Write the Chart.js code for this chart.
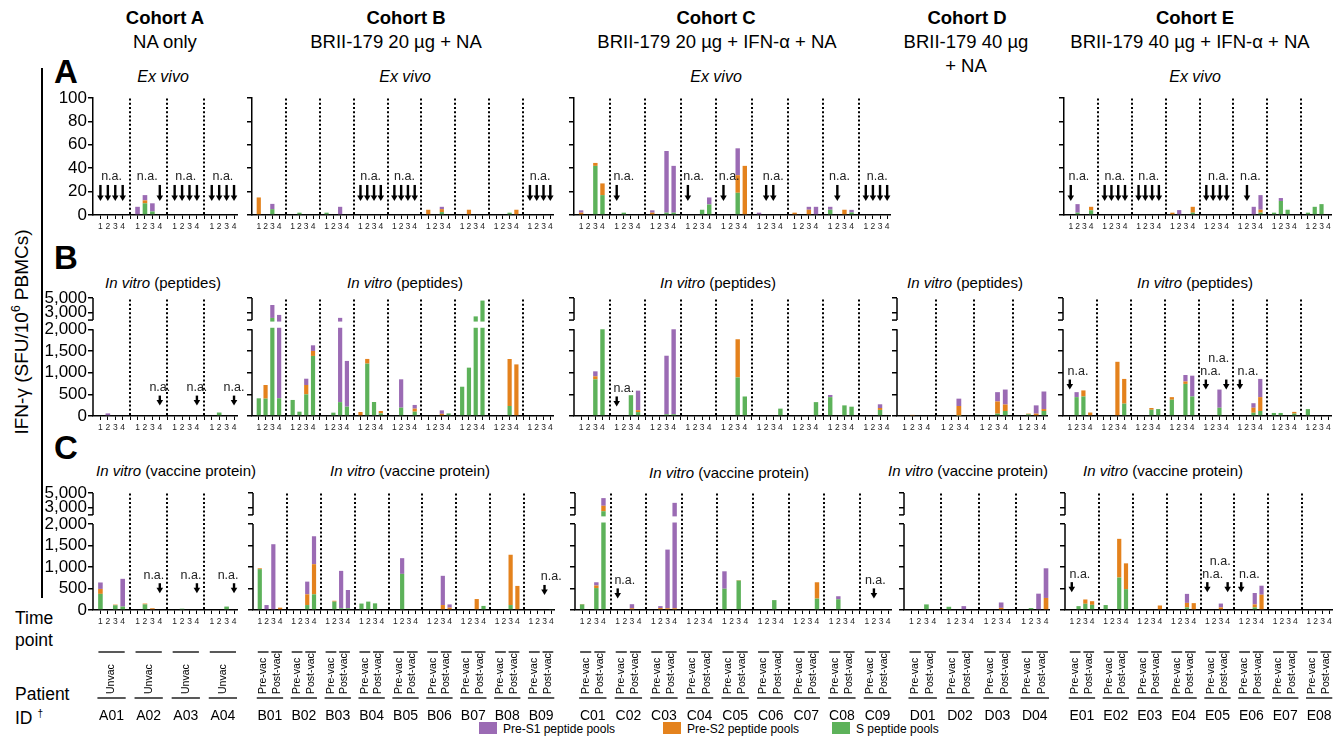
<!DOCTYPE html>
<html>
<head>
<meta charset="utf-8">
<script src="https://cdn.jsdelivr.net/npm/chart.js@4.4.0/dist/chart.umd.min.js"></script>
<style>
  body { margin: 0; width: 1335px; height: 736px; position: relative; background: #fff; overflow: hidden;
         font-family: "Liberation Sans", Arial, sans-serif; color: #000; }
  .t { position: absolute; white-space: nowrap; transform: translate(-50%, -50%); }
  .l { position: absolute; white-space: nowrap; transform: translateY(-50%); }
  .b { font-weight: bold; }
  .i { font-style: italic; }
  .h { font-size: 18.5px; }
  canvas { position: absolute; }
  .sw { position: absolute; width: 18px; height: 12px; }
</style>
</head>
<body>

<div class="t b h" style="left:165px;top:18px">Cohort A</div>
<div class="t h" style="left:165px;top:42px">NA only</div>
<div class="t b h" style="left:406px;top:18px">Cohort B</div>
<div class="t h" style="left:396px;top:42px">BRII-179 20 µg + NA</div>
<div class="t b h" style="left:716px;top:18px">Cohort C</div>
<div class="t h" style="left:717px;top:42px">BRII-179 20 µg + IFN-α + NA</div>
<div class="t b h" style="left:967px;top:18px">Cohort D</div>
<div class="t h" style="left:966px;top:42px">BRII-179 40 µg</div>
<div class="t h" style="left:966px;top:66px">+ NA</div>
<div class="t b h" style="left:1195px;top:18px">Cohort E</div>
<div class="t h" style="left:1190px;top:42px">BRII-179 40 µg + IFN-α + NA</div>

<div class="t b" style="left:66px;top:72px;font-size:33px">A</div>
<div class="t b" style="left:66px;top:258px;font-size:33px">B</div>
<div class="t b" style="left:66px;top:448px;font-size:33px">C</div>

<div style="position:absolute;left:41px;top:68px;width:2px;height:530px;background:#000"></div>
<div class="t" style="left:21px;top:332px;font-size:19px;transform:translate(-50%,-50%) rotate(-90deg)">IFN-γ (SFU/10<sup style="font-size:12px">6</sup> PBMCs)</div>

<div class="t i" style="left:163px;top:77px;font-size:16px">Ex vivo</div>
<div class="t i" style="left:405px;top:77px;font-size:16px">Ex vivo</div>
<div class="t i" style="left:716px;top:77px;font-size:16px">Ex vivo</div>
<div class="t i" style="left:1195px;top:77px;font-size:16px">Ex vivo</div>

<div class="t" style="left:163px;top:282px;font-size:15px"><i>In vitro</i> (peptides)</div>
<div class="t" style="left:405px;top:282px;font-size:15px"><i>In vitro</i> (peptides)</div>
<div class="t" style="left:718px;top:282px;font-size:15px"><i>In vitro</i> (peptides)</div>
<div class="t" style="left:965px;top:282px;font-size:15px"><i>In vitro</i> (peptides)</div>
<div class="t" style="left:1195px;top:282px;font-size:15px"><i>In vitro</i> (peptides)</div>

<div class="t" style="left:176px;top:470px;font-size:15px"><i>In vitro</i> (vaccine protein)</div>
<div class="t" style="left:410px;top:470px;font-size:15px"><i>In vitro</i> (vaccine protein)</div>
<div class="t" style="left:729px;top:472px;font-size:15px"><i>In vitro</i> (vaccine protein)</div>
<div class="t" style="left:968px;top:470px;font-size:15px"><i>In vitro</i> (vaccine protein)</div>
<div class="t" style="left:1163px;top:470px;font-size:15px"><i>In vitro</i> (vaccine protein)</div>

<div class="l" style="left:15px;top:618px;font-size:17.5px">Time</div>
<div class="l" style="left:15px;top:640px;font-size:17.5px">point</div>
<div class="l" style="left:15px;top:694px;font-size:17.5px">Patient</div>
<div class="l" style="left:15px;top:718px;font-size:17.5px">ID <sup style="font-size:10px">†</sup></div>

<div class="sw" style="left:479px;top:722px;background:#9b6bb4"></div>
<div class="l" style="left:503px;top:729px;font-size:12px">Pre-S1 peptide pools</div>
<div class="sw" style="left:663px;top:722px;background:#e4821d"></div>
<div class="l" style="left:687px;top:729px;font-size:12px">Pre-S2 peptide pools</div>
<div class="sw" style="left:832px;top:722px;background:#5db25a"></div>
<div class="l" style="left:856px;top:729px;font-size:12px">S peptide pools</div>

<script>
// ---- labels ----
const timePoints = ['1', '2', '3', '4'];
const vacLabels = ['Pre-vac', 'Post-vac'];
const unvacLabel = 'Unvac';
const cohortA_ids = ['A01', 'A02', 'A03', 'A04'];
const cohortB_ids = ['B01', 'B02', 'B03', 'B04', 'B05', 'B06', 'B07', 'B08', 'B09'];
const cohortC_ids = ['C01', 'C02', 'C03', 'C04', 'C05', 'C06', 'C07', 'C08', 'C09'];
const cohortD_ids = ['D01', 'D02', 'D03', 'D04'];
const cohortE_ids = ['E01', 'E02', 'E03', 'E04', 'E05', 'E06', 'E07', 'E08'];
const exVivoTicks = [0, 20, 40, 60, 80, 100];
const inVitroTicks = [0, 500, 1000, 1500, 2000, 3000, 5000];
const BREAK_AT = 2000;

// ---- values, 4 time points per patient (SFU/10^6 PBMCs) ----
// ex vivo
const exVivo_A_preS1 = [0,0,0,0, 7,4.5,7,0, 0,0,0,0, 0,0,0,0];
const exVivo_A_preS2 = [0,0,0,0, 0,2.5,0,0, 0,0,0,0, 0,0,0,0];
const exVivo_A_S     = [0,0,0,0, 0,10,3,0, 0,0,0,0, 0,0,0,0];
const exVivo_B_preS1 = [0,0,4.5,0, 0,0,0,0, 0,0,7,0, 0,0,0,0, 0,0,0,0, 0,0,2,0, 0,0,0,0, 0,0,0,0, 0,0,0,0];
const exVivo_B_preS2 = [15,0,0,0, 0,0,0,0, 0,0,0,0, 0,0,0,0, 0,0,0,0, 4.5,0,2.5,0, 0,4.5,0,0, 0,0,0,4.5, 0,0,0,0];
const exVivo_B_S     = [0,0,5,0, 0,2,0,0, 2,0,0,0, 0,0,0,0, 0,0,0,0, 0,0,2.5,0, 0,0,0,0, 0,0,2,0, 0,0,0,0];
const exVivo_C_preS1 = [2,0,0,0, 0,0,0,0, 2,0,52.7,40, 0,0,0,6, 0,0,23,0, 2,0,0,0, 0,0,2.5,7, 2.5,0,0,2.2, 0,0,0,0];
const exVivo_C_preS2 = [2,0,2.5,10, 0,0,0,0, 2,0,0,0, 0,0,0,0, 0,0,15,42, 0,0,0,0, 2,0,4.5,0, 0,0,4.5,0, 0,0,0,0];
const exVivo_C_S     = [0,0,42,17, 0,2,0,0, 0,0,2,2, 0,0,4.5,9, 0,0,19,0, 0,0,0,0, 0,0,0,0, 4.5,0,0,2.2, 0,0,0,0];
const exVivo_E_preS1 = [0,7.3,0,0, 0,0,0,0, 0,0,0,0, 0,4.2,0,0, 0,0,0,0, 0,0,7,12.5, 0,2.5,0,0, 0,0,0,0];
const exVivo_E_preS2 = [0,0,0,3, 0,0,0,0, 0,0,0,0, 2,0,0,5, 0,0,0,0, 0,0,0,2.5, 0,0,0,0, 0,0,0,0];
const exVivo_E_S     = [0,2,0,4, 0,0,0,0, 0,0,0,0, 0,0,0,2, 0,0,0,0, 0,0,0,2, 2,12,4.5,0, 2,7,9.3,0];

// in vitro, peptides
const peptides_A_preS1 = [0,60,0,0, 0,0,0,0, 0,0,0,0, 0,0,0,0];
const peptides_A_preS2 = [0,0,0,0, 0,0,0,0, 0,0,0,0, 0,0,0,0];
const peptides_A_S     = [0,0,0,0, 0,0,0,0, 0,0,0,0, 0,80,0,0];
const peptides_B_preS1 = [0,0,1760,2290, 0,0,145,130, 0,0,1980,1055, 0,0,0,0, 0,654,0,85, 0,0,80,0, 0,0,0,0, 0,0,0,0, 0,0,0,0];
const peptides_B_preS2 = [0,315,0,0, 0,0,215,115, 0,0,0,0, 92,108,0,55, 0,0,0,70, 0,0,50,0, 0,0,0,0, 0,0,1085,1190, 0,0,0,0];
const peptides_B_S     = [408,400,2290,410, 370,100,500,1385, 0,77,320,215, 0,1208,323,60, 0,192,0,100, 0,0,0,60, 675,1115,2500,4650, 0,0,230,0, 0,0,0,0];
const peptides_C_preS1 = [0,0,115,0, 0,0,0,450, 0,0,1350,1960, 0,0,0,0, 0,0,0,0, 0,0,0,0, 0,0,0,0, 50,0,0,0, 0,0,85,0];
const peptides_C_preS2 = [0,0,70,0, 0,0,0,45, 0,0,0,0, 0,0,0,0, 0,0,880,0, 0,0,0,0, 0,0,0,0, 0,0,0,0, 0,0,45,0];
const peptides_C_S     = [0,0,845,2000, 0,0,480,90, 0,0,40,40, 0,0,0,0, 0,0,890,450, 0,0,0,170, 0,0,0,320, 435,0,245,215, 0,0,140,0];
const peptides_D_preS1 = [0,0,0,0, 0,0,170,0, 0,0,215,345, 0,0,190,405];
const peptides_D_preS2 = [0,25,0,0, 0,0,220,0, 0,0,280,150, 0,15,55,45];
const peptides_D_S     = [0,0,0,0, 0,0,10,0, 0,0,55,115, 0,40,0,115];
const peptides_E_preS1 = [0,115,0,0, 0,0,0,0, 0,0,0,0, 0,0,150,480, 0,0,420,0, 0,0,105,420, 0,0,0,0, 0,0,0,0];
const peptides_E_preS2 = [0,0,140,80, 0,0,1250,570, 0,0,40,0, 60,0,55,0, 0,0,0,0, 0,0,115,320, 0,0,0,40, 0,0,0,0];
const peptides_E_S     = [0,435,450,0, 0,0,0,285, 0,0,145,160, 375,0,740,450, 0,0,190,0, 0,0,75,115, 70,70,0,55, 160,0,0,0];

// in vitro, vaccine protein
const protein_A_preS1 = [150,0,0,645, 0,0,0,0, 0,0,0,0, 0,0,0,0];
const protein_A_preS2 = [115,0,15,0, 0,20,40,0, 0,0,0,0, 0,0,0,0];
const protein_A_S     = [375,0,110,80, 0,130,0,0, 0,30,0,0, 0,0,80,0];
const protein_B_preS1 = [0,115,1530,0, 0,0,295,650, 0,0,870,425, 0,0,0,0, 0,365,0,0, 0,0,680,75, 0,0,0,0, 0,0,0,0, 0,0,0,0];
const protein_B_preS2 = [20,0,0,55, 0,0,250,700, 0,20,0,0, 0,0,0,0, 0,0,0,0, 0,0,115,55, 0,0,255,0, 0,0,1170,560, 0,0,0,0];
const protein_B_S     = [950,0,0,0, 0,0,115,365, 0,195,40,40, 150,195,155,0, 0,840,0,0, 0,0,0,0, 0,0,0,95, 0,0,115,0, 0,0,0,15];
const protein_C_preS1 = [0,0,75,1050, 0,0,95,0, 0,45,1365,3610, 0,0,0,0, 405,0,0,0, 0,0,0,0, 0,0,0,0, 0,70,0,0, 0,0,0,0];
const protein_C_preS2 = [10,0,60,750, 0,0,40,0, 0,45,40,40, 0,0,0,0, 0,0,10,0, 0,0,0,0, 0,0,0,380, 0,0,0,0, 0,0,0,0];
const protein_C_S     = [130,0,510,2500, 0,0,0,0, 0,0,0,0, 0,0,0,0, 495,0,685,0, 0,0,230,0, 0,0,0,265, 0,250,0,0, 0,0,0,0];
const protein_D_preS1 = [0,0,0,0, 0,0,90,0, 0,0,125,0, 0,0,380,690];
const protein_D_preS2 = [0,0,0,0, 0,0,0,0, 0,0,50,0, 0,0,0,280];
const protein_D_S     = [0,0,130,0, 75,0,0,0, 0,0,0,0, 0,45,0,0];
const protein_E_preS1 = [0,0,0,0, 0,0,0,0, 0,0,0,0, 0,0,210,0, 0,0,90,0, 0,0,265,210, 0,0,0,0, 0,0,0,0];
const protein_E_preS2 = [0,0,100,85, 0,0,900,600, 0,0,0,105, 0,0,105,160, 0,0,60,0, 0,0,70,355, 0,0,0,0, 0,0,0,0];
const protein_E_S     = [0,90,145,120, 115,0,755,485, 0,0,0,0, 0,0,60,0, 0,0,0,0, 0,0,60,0, 0,0,0,0, 0,0,0,0];

// not available: [patient, time points with arrow, label centre (time point), label level]
const exVivo_A_na = [[0,[0,1,2,3],1.5], [1,[3],1.3], [2,[0,1,2,3],1.5], [3,[0,1,2,3],1.5]];
const exVivo_B_na = [[3,[0,1,2,3],1.5], [4,[0,1,2,3],1.5], [8,[0,1,2,3],1.5]];
const exVivo_C_na = [[1,[0],1], [3,[0],0.8], [4,[0],0.8], [5,[1,2],2], [7,[1],1.3], [8,[0,1,2,3],1.6]];
const exVivo_E_na = [[0,[0],1.2], [1,[0,1,2,3],1.5], [2,[0,1,2,3],1.5], [4,[0,1,2,3],1.8], [5,[1],1.5]];
const peptides_A_na = [[1,[3],3], [2,[3],3], [3,[3],3]];
const peptides_C_na = [[1,[0],1]];
const peptides_E_na = [[0,[0],1.2], [4,[0],0.7], [4,[3],1.9,1], [5,[0],1.2]];
const protein_A_na = [[1,[3],2.2], [2,[3],2.2], [3,[3],2.2]];
const protein_B_na = [[8,[2],3]];
const protein_C_na = [[1,[0],1], [8,[1],1.2]];
const protein_E_na = [[0,[0],1.2], [4,[0],0.8], [4,[3],1.9,1], [5,[0],1.2]];

const SERIES = [
  { label: 'S peptide pools', color: '#5db25a' },
  { label: 'Pre-S2 peptide pools', color: '#e4821d' },
  { label: 'Pre-S1 peptide pools', color: '#9b6bb4' }
];

// y axis with a gap between 2,000 and the upper segment
class BrokenLinear extends Chart.LinearScale {
  getPixelForValue(v) {
    const b = this.bottom, h = this.bottom - this.top;
    const lowH = h * 0.735, gapH = h * 0.078;
    if (v <= BREAK_AT) return b - v / BREAK_AT * lowH;
    return b - lowH - gapH - (v - BREAK_AT) / (this.max - BREAK_AT) * (h - lowH - gapH);
  }
  getValueForPixel(p) {
    const b = this.bottom, h = this.bottom - this.top;
    const lowH = h * 0.735, gapH = h * 0.078;
    if (p >= b - lowH) return (b - p) / lowH * BREAK_AT;
    return BREAK_AT + (b - lowH - gapH - p) / (h - lowH - gapH) * (this.max - BREAK_AT);
  }
}
BrokenLinear.id = 'brokenLinear';
BrokenLinear.defaults = Chart.LinearScale.defaults;
Chart.register(BrokenLinear);

Chart.defaults.font.family = '"Liberation Sans", Arial, sans-serif';
Chart.defaults.color = '#000';

const rows = [
  { top: 98,  zero: 215, max: 100,  ticks: exVivoTicks,  broken: false, arrowLen: 16 },
  { top: 298, zero: 416, max: 5000, ticks: inVitroTicks, broken: true,  arrowLen: 10 },
  { top: 493, zero: 610, max: 5000, ticks: inVitroTicks, broken: true,  arrowLen: 10, footer: true }
];

const panels = [
  { row: 0, left: 93,   right: 237,  ids: cohortA_ids, first: true, s1: exVivo_A_preS1, s2: exVivo_A_preS2, s: exVivo_A_S, na: exVivo_A_na, tip: 12 },
  { row: 0, left: 252,  right: 553,  ids: cohortB_ids, s1: exVivo_B_preS1, s2: exVivo_B_preS2, s: exVivo_B_S, na: exVivo_B_na, tip: 12 },
  { row: 0, left: 574,  right: 890,  ids: cohortC_ids, s1: exVivo_C_preS1, s2: exVivo_C_preS2, s: exVivo_C_S, na: exVivo_C_na, tip: 12 },
  { row: 0, left: 1064, right: 1331, ids: cohortE_ids, s1: exVivo_E_preS1, s2: exVivo_E_preS2, s: exVivo_E_S, na: exVivo_E_na, tip: 12 },

  { row: 1, left: 93,   right: 237,  ids: cohortA_ids, first: true, s1: peptides_A_preS1, s2: peptides_A_preS2, s: peptides_A_S, na: peptides_A_na, tip: 240 },
  { row: 1, left: 252,  right: 553,  ids: cohortB_ids, s1: peptides_B_preS1, s2: peptides_B_preS2, s: peptides_B_S, na: [], tip: 0 },
  { row: 1, left: 574,  right: 890,  ids: cohortC_ids, s1: peptides_C_preS1, s2: peptides_C_preS2, s: peptides_C_S, na: peptides_C_na, tip: 220 },
  { row: 1, left: 897,  right: 1047, ids: cohortD_ids, s1: peptides_D_preS1, s2: peptides_D_preS2, s: peptides_D_S, na: [], tip: 0 },
  { row: 1, left: 1063, right: 1331, ids: cohortE_ids, s1: peptides_E_preS1, s2: peptides_E_preS2, s: peptides_E_S, na: peptides_E_na, tip: 610 },

  { row: 2, left: 93,   right: 237,  ids: cohortA_ids, first: true, unvac: true, s1: protein_A_preS1, s2: protein_A_preS2, s: protein_A_S, na: protein_A_na, tip: 390 },
  { row: 2, left: 253,  right: 554,  ids: cohortB_ids, s1: protein_B_preS1, s2: protein_B_preS2, s: protein_B_S, na: protein_B_na, tip: 350 },
  { row: 2, left: 575,  right: 891,  ids: cohortC_ids, s1: protein_C_preS1, s2: protein_C_preS2, s: protein_C_S, na: protein_C_na, tip: 270 },
  { row: 2, left: 904,  right: 1049, ids: cohortD_ids, s1: protein_D_preS1, s2: protein_D_preS2, s: protein_D_S, na: [], tip: 0 },
  { row: 2, left: 1065, right: 1332, ids: cohortE_ids, s1: protein_E_preS1, s2: protein_E_preS2, s: protein_E_S, na: protein_E_na, tip: 415 }
];

function seg(ctx, x1, y1, x2, y2) {
  ctx.beginPath(); ctx.moveTo(x1, y1); ctx.lineTo(x2, y2); ctx.stroke();
}

function arrow(ctx, cx, tipY, len) {
  const hw = 3.3, hh = 5.5;
  ctx.fillRect(cx - 1.2, tipY - len, 2.4, len - hh + 1);
  ctx.beginPath();
  ctx.moveTo(cx - hw, tipY - hh); ctx.lineTo(cx + hw, tipY - hh); ctx.lineTo(cx, tipY);
  ctx.closePath(); ctx.fill();
}

const decor = {
  id: 'decor',
  afterDatasetsDraw(chart) {
    const { ctx, chartArea: a, scales: { x, y } } = chart;
    const P = chart.canvas.panel, R = rows[P.row];
    const n = P.ids.length;
    ctx.save();
    ctx.strokeStyle = '#000'; ctx.fillStyle = '#000';
    if (R.broken) {
      const yLow = y.getPixelForValue(BREAK_AT), yHigh = y.getPixelForValue(BREAK_AT + 1e-6);
      ctx.fillStyle = '#fff';
      ctx.fillRect(a.left + 1, yHigh + 1.5, a.right - a.left, yLow - yHigh - 3);
      ctx.fillStyle = '#000';
      ctx.lineWidth = 1.5;
      seg(ctx, a.left, y.getPixelForValue(0), a.left, yLow);
      seg(ctx, a.left, yHigh, a.left, y.getPixelForValue(R.max));
      seg(ctx, a.left - 5, yHigh, a.left, yHigh);
    }
    // dotted separators between patients
    ctx.lineWidth = 2;
    ctx.setLineDash([2, 2.2]);
    for (let p = 1; p < n; p++) {
      const sx = Math.round(x.getPixelForValue(p * 5 - 1));
      seg(ctx, sx, a.bottom - 1, sx, a.top);
    }
    ctx.setLineDash([]);
    // n.a. marks
    ctx.font = '12.5px "Liberation Sans", Arial, sans-serif';
    ctx.textAlign = 'center'; ctx.textBaseline = 'middle';
    P.na.forEach(([p, tps, c, lvl]) => {
      const tipY = y.getPixelForValue(P.tip);
      tps.forEach(t => arrow(ctx, x.getPixelForValue(p * 5 + t), tipY, R.arrowLen));
      ctx.fillStyle = '#222';
      ctx.fillText('n.a.', x.getPixelForValue(p * 5 + c), tipY - R.arrowLen - 8 - (lvl || 0) * 13);
      ctx.fillStyle = '#000';
    });
    ctx.restore();
  },
  afterDraw(chart) {
    const P = chart.canvas.panel, R = rows[P.row];
    if (!R.footer) return;
    const { ctx, scales: { x } } = chart;
    const Y = v => v - P.cTop;
    ctx.save();
    ctx.strokeStyle = '#222'; ctx.fillStyle = '#000'; ctx.lineWidth = 1.5;
    P.ids.forEach((id, p) => {
      const px = t => x.getPixelForValue(p * 5 + t);
      if (P.unvac) {
        seg(ctx, px(0) - 2, Y(652), px(3) + 2, Y(652));
      } else {
        seg(ctx, px(0) - 2, Y(652), px(1) + 2, Y(652));
        seg(ctx, px(2) - 2, Y(652), px(3) + 2, Y(652));
      }
      seg(ctx, px(0) - 3, Y(698), px(3) + 3, Y(698));
      ctx.font = '10.5px "Liberation Sans", Arial, sans-serif';
      ctx.textAlign = 'left'; ctx.textBaseline = 'middle';
      const rot = (label, cx) => {
        ctx.save(); ctx.translate(cx, Y(694)); ctx.rotate(-Math.PI / 2);
        ctx.fillText(label, 0, 0); ctx.restore();
      };
      if (P.unvac) rot(unvacLabel, (px(1) + px(2)) / 2);
      else { rot(vacLabels[0], (px(0) + px(1)) / 2); rot(vacLabels[1], (px(2) + px(3)) / 2); }
      ctx.font = '14px "Liberation Sans", Arial, sans-serif';
      ctx.textAlign = 'center';
      ctx.fillText(id, (px(0) + px(3)) / 2, Y(716));
    });
    ctx.restore();
  }
};

panels.forEach(P => {
  const R = rows[P.row];
  const yW = P.first ? 56 : 7;
  const padTop = 12, xH = 21, padRight = 14;
  const padBottom = R.footer ? 736 - R.zero - xH : 2;
  const cLeft = P.left - yW, cTop = R.top - padTop;
  const cv = document.createElement('canvas');
  cv.width = P.right - cLeft + padRight;
  cv.height = R.zero - cTop + xH + padBottom;
  cv.style.left = cLeft + 'px';
  cv.style.top = cTop + 'px';
  document.body.appendChild(cv);
  P.cTop = cTop;
  cv.panel = P;
  const n = P.ids.length;
  const pts = arr => arr.map((v, k) => ({ x: Math.floor(k / 4) * 5 + k % 4, y: v }));
  const slots = [];
  for (let i = 0; i <= 5 * n - 2; i++) slots.push({ value: i });

  new Chart(cv, {
    type: 'bar',
    data: {
      datasets: [
        { label: SERIES[0].label, data: pts(P.s),  backgroundColor: SERIES[0].color },
        { label: SERIES[1].label, data: pts(P.s2), backgroundColor: SERIES[1].color },
        { label: SERIES[2].label, data: pts(P.s1), backgroundColor: SERIES[2].color }
      ]
    },
    options: {
      responsive: false,
      animation: false,
      layout: { padding: { top: padTop, right: padRight, bottom: padBottom, left: 0 } },
      plugins: { legend: { display: false }, tooltip: { enabled: false } },
      datasets: { bar: { categoryPercentage: 1, barPercentage: 0.62, borderWidth: 0 } },
      scales: {
        x: {
          type: 'linear', stacked: true, min: -1, max: 5 * n - 1.6, offset: false,
          afterBuildTicks: s => { s.ticks = slots.slice(); },
          afterFit: s => { s.height = xH; },
          grid: { offset: false, drawOnChartArea: false, tickLength: 4, color: '#000', lineWidth: 1 },
          border: { color: '#000', width: 1.5 },
          ticks: {
            autoSkip: false, maxRotation: 0, padding: 3, color: '#222', font: { size: 8.5 },
            callback: v => (v % 5 < 4 ? timePoints[v % 5] : '')
          }
        },
        y: {
          type: R.broken ? 'brokenLinear' : 'linear', stacked: true, min: 0, max: R.max,
          afterBuildTicks: s => { s.ticks = R.ticks.map(v => ({ value: v })); },
          afterFit: s => { s.width = yW; },
          grid: { drawOnChartArea: false, tickLength: 5, color: '#000', lineWidth: 1.5 },
          border: { display: !R.broken, color: '#000', width: 1.5 },
          ticks: {
            display: !!P.first, autoSkip: false, padding: 1, color: '#000', font: { size: 17 },
            callback: v => v.toLocaleString('en-US')
          }
        }
      }
    },
    plugins: [decor]
  });
});
</script>
</body>
</html>
